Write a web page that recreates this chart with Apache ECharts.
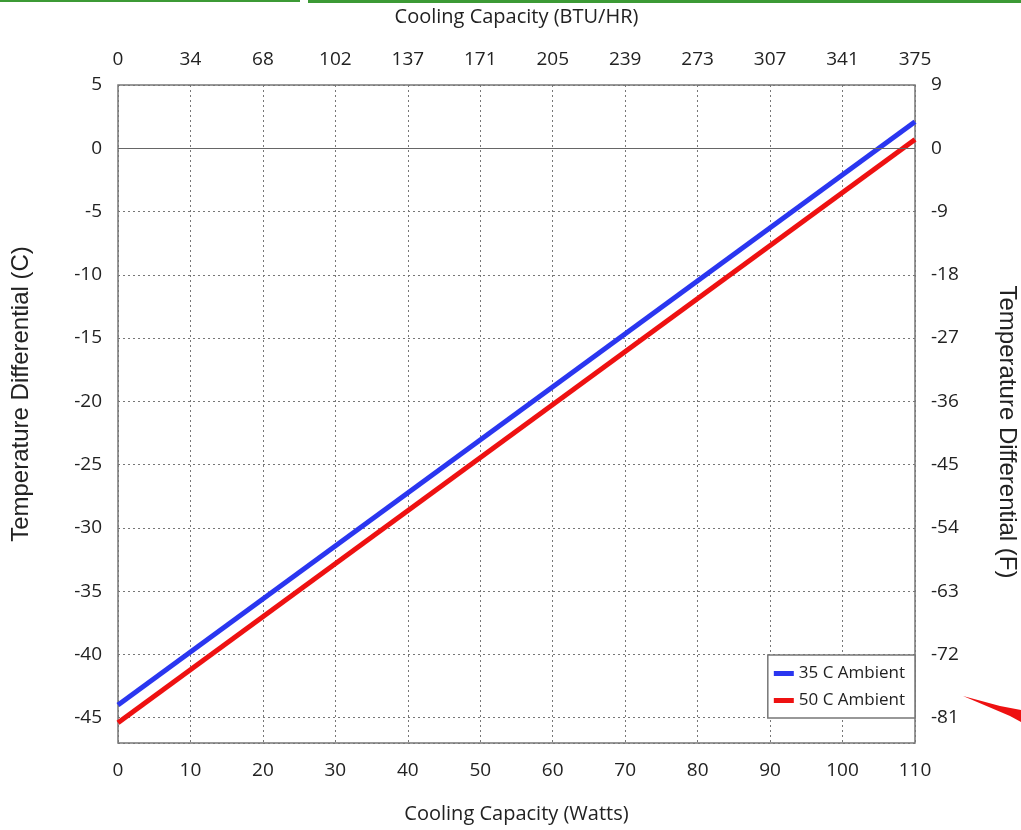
<!DOCTYPE html>
<html>
<head>
<meta charset="utf-8">
<script src="https://cdn.jsdelivr.net/npm/echarts@6/dist/echarts.min.js"></script>
<style>html,body{margin:0;padding:0;background:#fff}#c{width:1021px;height:830px}</style>
</head>
<body>
<div id="c"></div>
<script>
// Data
var watts = [0, 110];
var ambient35 = [-44.0, 2.1];
var ambient50 = [-45.4, 0.7];
var seriesNames = ['35 C Ambient', '50 C Ambient'];
var btuLabels = ['0','34','68','102','137','171','205','239','273','307','341','375'];
var cTicks = [5, 0, -5, -10, -15, -20, -25, -30, -35, -40, -45];
var fLabels = ['9','0','-9','-18','-27','-36','-45','-54','-63','-72','-81'];

var chart = echarts.init(document.getElementById('c'));
var tickFont = {fontFamily:'Open Sans', fontSize:19, color:'#222'};
var gridLine = {show:true, lineStyle:{color:'#777', type:[2,3], width:1}};

function isTick(v){ return cTicks.indexOf(Math.round(v*1000)/1000) >= 0; }

chart.setOption({
  animation:false,
  backgroundColor:'#fff',
  grid:{left:118, right:106, top:85, bottom:87, show:true, borderColor:'#777', borderWidth:1.5,
        containLabel:false, outerBoundsMode:'none'},
  legend:{
    data:seriesNames, orient:'vertical', right:106, bottom:112,
    backgroundColor:'#fff', borderColor:'#777', borderWidth:1.5, borderRadius:0,
    padding:[10,10,9,6], itemGap:10, itemWidth:20, itemHeight:5,
    icon:'rect',
    textStyle:{fontFamily:'Open Sans', fontSize:17, color:'#222'}
  },
  xAxis:[
    {type:'value', position:'bottom', min:0, max:110, interval:10,
     name:'Cooling Capacity (Watts)', nameLocation:'middle', nameGap:61,
     nameTextStyle:{fontFamily:'Open Sans', fontSize:20, color:'#222'},
     axisLine:{show:false}, axisTick:{show:false},
     axisLabel:Object.assign({margin:18}, tickFont),
     splitLine:gridLine},
    {type:'value', position:'top', min:0, max:110, interval:10,
     name:'Cooling Capacity (BTU/HR)', nameLocation:'middle', nameGap:58,
     nameTextStyle:{fontFamily:'Open Sans', fontSize:20, color:'#222'},
     axisLine:{show:false}, axisTick:{show:false},
     axisLabel:Object.assign({margin:16, formatter:function(v){return btuLabels[Math.round(v/10)];}}, tickFont),
     splitLine:{show:false}}
  ],
  yAxis:[
    {type:'value', position:'left', min:-47, max:5, splitNumber:10,
     name:'Temperature Differential (C)', nameLocation:'middle', nameGap:85,
     nameTextStyle:{fontFamily:'Liberation Sans', fontSize:24, color:'#222', padding:[0,0,0,40]},
     axisLine:{show:false}, axisTick:{show:false},
     axisLabel:Object.assign({margin:16, formatter:function(v){return isTick(v)? String(Math.round(v)):'';}}, tickFont),
     splitLine:gridLine},
    {type:'value', position:'right', min:-47, max:5, splitNumber:10,
     name:'Temperature Differential (F)', nameLocation:'middle', nameGap:80, nameRotate:-90,
     nameTextStyle:{fontFamily:'Liberation Sans', fontSize:24, color:'#222', padding:[0,0,0,36]},
     axisLine:{show:false}, axisTick:{show:false},
     axisLabel:Object.assign({margin:16, formatter:function(v){var i=cTicks.indexOf(Math.round(v*1000)/1000);return i>=0?fLabels[i]:'';}}, tickFont),
     splitLine:{show:false}}
  ],
  series:[
    {name:seriesNames[0], type:'line', data:watts.map(function(w,i){return [w, ambient35[i]];}),
     symbol:'none', lineStyle:{color:'#2a36f0', width:5}, itemStyle:{color:'#2a36f0'}, z:3,
     markLine:{silent:true, symbol:'none', label:{show:false}, lineStyle:{color:'#666', type:'solid', width:1.2},
       data:[{yAxis:0}]}},
    {name:seriesNames[1], type:'line', data:watts.map(function(w,i){return [w, ambient50[i]];}),
     symbol:'none', lineStyle:{color:'#ee1111', width:5}, itemStyle:{color:'#ee1111'}, z:3}
  ],
  graphic:[
    {type:'rect', shape:{x:308, y:0, width:713, height:3}, style:{fill:'#3c9a35'}},
    {type:'rect', shape:{x:0, y:0, width:300, height:2}, style:{fill:'#3c9a35'}},
    {type:'polygon', shape:{points:[[963,696],[1000,706],[1021,710],[1021,722],[1010,716]]}, style:{fill:'#ee1111'}}
  ]
});
</script>
</body>
</html>
